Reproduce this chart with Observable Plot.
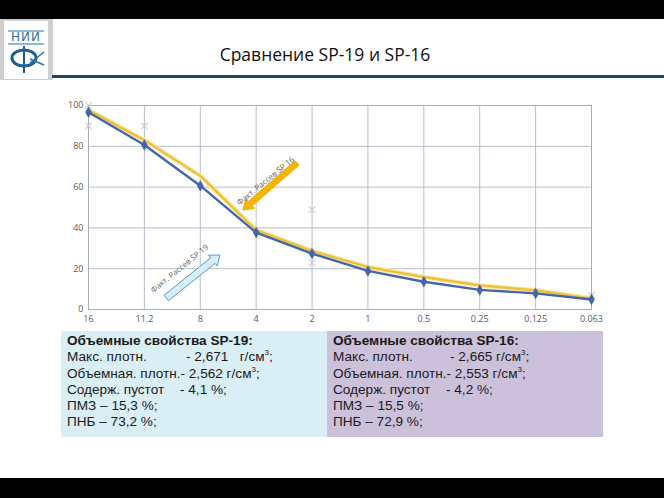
<!DOCTYPE html>
<html><head><meta charset="utf-8">
<script src="https://cdn.jsdelivr.net/npm/d3@7"></script>
<script src="https://cdn.jsdelivr.net/npm/@observablehq/plot@0.6"></script>
<style>
body{margin:0;width:664px;height:498px;position:relative;overflow:hidden;background:#fff;font-family:"Liberation Sans",Arial,sans-serif}
.band{position:absolute;left:0;width:664px;background:#000}
#title{position:absolute;left:0;width:650px;top:42px;text-align:center;font-family:"Open Sans",sans-serif;font-size:17.5px;color:#111}
#rule{position:absolute;left:52px;top:75px;width:612px;height:3px;background:#1d4a5a}
#chart{position:absolute;left:40px;top:90px}
.box{position:absolute;top:331px;height:106px;font-size:13.6px;line-height:16.3px;color:#1a1a1a;box-sizing:border-box;padding:2px 0 0 6px}
.box b{font-weight:bold}
.box .k{display:inline-block}
sup{font-size:8px;line-height:0;vertical-align:6px}
</style></head><body>
<div class="band" style="top:0;height:19px"></div>
<div class="band" style="top:478px;height:20px"></div>
<svg style="position:absolute;left:0;top:19px" width="54" height="62">
  <rect x="0" y="0" width="53" height="61" fill="#cfcfcf"/>
  <rect x="4" y="2" width="44" height="58" fill="#fff"/>
  <text x="26" y="22" text-anchor="middle" font-size="12" font-family="DejaVu Sans" fill="#2a73a8" letter-spacing="1">НИИ</text>
  <line x1="8" y1="12" x2="44" y2="12" stroke="#2a73a8" stroke-width="1"/>
  <line x1="8" y1="25" x2="44" y2="25" stroke="#2a73a8" stroke-width="1"/>
  <ellipse cx="24" cy="39" rx="12" ry="8" fill="none" stroke="#1b5f93" stroke-width="3"/>
  <line x1="24" y1="27" x2="24" y2="54" stroke="#1b5f93" stroke-width="2"/>
  <path d="M30 44 L44 33 M30 40 L44 46" stroke="#2a73a8" stroke-width="1.5" fill="none"/>
</svg>
<div id="title">Сравнение SP-19 и SP-16</div>
<div id="rule"></div>
<div id="chart"></div>
<div class="box" style="left:61px;width:266px;background:#daeef5">
<b>Объемные свойства SP-19:</b><br>
<span class="k" style="width:119px">Макс. плотн.</span>- 2,671&nbsp;&nbsp; г/см<sup>3</sup>;<br>
Объемная. плотн.- 2,562 г/см<sup>3</sup>;<br>
<span class="k" style="width:113px">Содерж. пустот</span>- 4,1 %;<br>
ПМЗ – 15,3 %;<br>
ПНБ – 73,2 %;
</div>
<div class="box" style="left:327px;width:276px;background:#ccc1da">
<b>Объемные свойства SP-16:</b><br>
<span class="k" style="width:117px">Макс. плотн.</span>- 2,665 г/см<sup>3</sup>;<br>
Объемная. плотн.- 2,553 г/см<sup>3</sup>;<br>
<span class="k" style="width:113px">Содерж. пустот</span>- 4,2 %;<br>
ПМЗ – 15,5 %;<br>
ПНБ – 72,9 %;
</div>
<script>
const sieves = ["16","11.2","8","4","2","1","0.5","0.25","0.125","0.063"];
const sp19 = [96.7,80.6,60.7,37.7,27.4,18.9,13.6,9.6,7.9,4.9];
const sp16 = [97.8,83.0,65.5,38.9,28.7,20.8,15.9,11.8,9.4,5.4];
const limitIdx = [0,0,1,4,4,9];
const limitVal = [100,90,90,49,23,7];
const yTicks = [0,20,40,60,80,100];
const annoLabels = ["Факт. Рассев SP 16","Факт. Рассев SP 19"];
const annoX = [3.17,1.63];
const annoY = [63,20];
const arrowFrom = [[3.74,71.6],[1.40,5.4]];
const arrowTo = [[2.77,48.5],[2.36,26.5]];

const idx = sieves.map((_, i) => i);
const rows19 = idx.map(i => ({i, v: sp19[i]}));
const rows16 = idx.map(i => ({i, v: sp16[i]}));
const limits = limitIdx.map((i, k) => ({i, v: limitVal[k]}));
const annos = annoLabels.map((t, k) => ({t, x: annoX[k], y: annoY[k]}));

function arrowShape(k, shaft, head, headLen, fill, stroke) {
  return (index, scales) => {
    const x1 = scales.x(arrowFrom[k][0]), y1 = scales.y(arrowFrom[k][1]);
    const x2 = scales.x(arrowTo[k][0]), y2 = scales.y(arrowTo[k][1]);
    const dx = x2 - x1, dy = y2 - y1, L = Math.hypot(dx, dy);
    const ux = dx / L, uy = dy / L, nx = -uy, ny = ux;
    const bx = x2 - ux * headLen, by = y2 - uy * headLen;
    const p = [
      [x1 + nx * shaft / 2, y1 + ny * shaft / 2],
      [bx + nx * shaft / 2, by + ny * shaft / 2],
      [bx + nx * head / 2, by + ny * head / 2],
      [x2, y2],
      [bx - nx * head / 2, by - ny * head / 2],
      [bx - nx * shaft / 2, by - ny * shaft / 2],
      [x1 - nx * shaft / 2, y1 - ny * shaft / 2]
    ];
    const ns = "http://www.w3.org/2000/svg";
    const poly = document.createElementNS(ns, "polygon");
    poly.setAttribute("points", p.map(q => q.join(",")).join(" "));
    poly.setAttribute("fill", fill);
    poly.setAttribute("stroke", stroke);
    poly.setAttribute("stroke-width", 1);
    return poly;
  };
}

const chart = Plot.plot({
  width: 580, height: 240,
  marginLeft: 48, marginRight: 29, marginTop: 15, marginBottom: 21,
  style: {fontFamily: "Open Sans, sans-serif", fontSize: "9px", color: "#595959", background: "transparent"},
  x: {domain: [0, 9], ticks: idx, tickFormat: i => sieves[i], tickSize: 0, tickPadding: 6, label: null},
  y: {domain: [0, 100], ticks: yTicks, tickSize: 0, tickPadding: 5, label: null},
  marks: [
    Plot.ruleY(yTicks, {stroke: "#b7bfcc", strokeWidth: 1}),
    Plot.ruleX(idx, {stroke: "#b7bfcc", strokeWidth: 1}),
    Plot.frame({stroke: "#a9afb8"}),
    Plot.dot(limits, {x: "i", y: "v", symbol: "times", r: 3, stroke: "#cfcfcf", strokeWidth: 1.2}),
    Plot.line(rows16, {x: "i", y: "v", stroke: "#fbe6a0", strokeWidth: 4.5}),
    Plot.line(rows16, {x: "i", y: "v", stroke: "#ecc03a", strokeWidth: 2.2}),
    Plot.line(rows19, {x: "i", y: "v", stroke: "#4466ad", strokeWidth: 2.4}),
    Plot.dot(rows19, {x: "i", y: "v", symbol: "diamond", r: 2.6, fill: "#4466ad", stroke: "#4466ad"}),
    arrowShape(0, 6, 13, 10, "#f4b400", "#f4b400"),
    arrowShape(1, 7, 14, 9, "#d8eef9", "#5a98cf"),
    Plot.text(annos, {x: "x", y: "y", text: "t", rotate: -39, fontSize: 8, fill: "#666"})
  ]
});
document.getElementById("chart").appendChild(chart);
</script>
</body></html>
